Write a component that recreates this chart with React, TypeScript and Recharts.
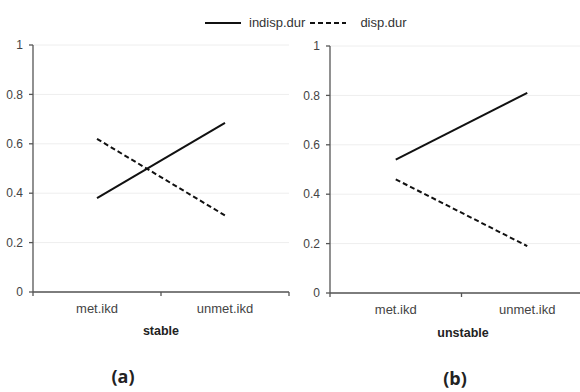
import React from "react";
import { LineChart, Line, XAxis, YAxis, CartesianGrid } from "recharts";

const categories = ["met.ikd", "unmet.ikd"];
const seriesNames = ["indisp.dur", "disp.dur"];
const stableIndisp = [0.38, 0.685];
const stableDisp = [0.62, 0.31];
const unstableIndisp = [0.54, 0.81];
const unstableDisp = [0.46, 0.19];
const yTicks = [0, 0.2, 0.4, 0.6, 0.8, 1];

const FONT = "'Liberation Sans', Arial, sans-serif";
const AXIS = "#555";

// x is numeric so tick marks can sit between categories (Excel style)
const build = (a: number[], b: number[]) =>
  categories.map((c, i) => ({ name: c, x: i + 0.5, indisp: a[i], disp: b[i] }));

const XTick = (props: any) => {
  const { x, y, payload } = props;
  const v = payload.value;
  if (Number.isInteger(v)) {
    return <line x1={x} x2={x} y1={y} y2={y + 4} stroke={AXIS} strokeWidth={1.3} />;
  }
  return (
    <text x={x} y={y + 16} dy="0.355em" textAnchor="middle" fill="#444" fontSize={13} fontFamily={FONT}>
      {categories[Math.floor(v)]}
    </text>
  );
};

type PanelProps = {
  data: any[];
  left: number;
  width: number;
  yAxisWidth: number;
  top: number;
  plotBottom: number;
  right: number;
};

function Panel({ data, left, width, yAxisWidth, top, plotBottom, right }: PanelProps) {
  const height = 392;
  return (
    <div style={{ position: "absolute", left, top: 0 }}>
      <LineChart
        width={width}
        height={height}
        data={data}
        margin={{ top, left: 0, right, bottom: height - plotBottom - 30 }}
      >
        <CartesianGrid vertical={false} stroke="#eeeeee" />
        <XAxis
          dataKey="x"
          type="number"
          domain={[0, 2]}
          ticks={[0, 0.5, 1, 1.5, 2]}
          interval={0}
          height={30}
          tickLine={false}
          tickSize={0}
          tickMargin={0}
          tick={<XTick />}
          axisLine={{ stroke: AXIS, strokeWidth: 1.3 }}
        />
        <YAxis
          width={yAxisWidth}
          domain={[0, 1]}
          ticks={yTicks}
          interval={0}
          tickSize={4}
          tickMargin={6}
          tickFormatter={(v: number) => String(v)}
          tick={{ fill: "#444", fontSize: 12, fontFamily: FONT }}
          tickLine={{ stroke: AXIS, strokeWidth: 1.3 }}
          axisLine={{ stroke: AXIS, strokeWidth: 1.3 }}
        />
        <Line dataKey="indisp" stroke="#111" strokeWidth={2} dot={false} isAnimationActive={false} />
        <Line
          dataKey="disp"
          stroke="#111"
          strokeWidth={2}
          strokeDasharray="5 3"
          dot={false}
          isAnimationActive={false}
        />
      </LineChart>
    </div>
  );
}

const label = (text: string, cx: number, cy: number, size: number, family = FONT) => (
  <div
    style={{
      position: "absolute",
      left: cx - 60,
      top: cy - size * 0.6,
      width: 120,
      textAlign: "center",
      fontFamily: family,
      fontWeight: "bold",
      fontSize: size,
      lineHeight: `${size * 1.2}px`,
      color: "#222",
    }}
  >
    {text}
  </div>
);

export default function App() {
  return (
    <div
      style={{
        position: "absolute",
        left: 0,
        top: 0,
        width: 580,
        height: 392,
        overflow: "hidden",
        background: "#fff",
      }}
    >
      {/* legend */}
      <div
        style={{
          position: "absolute",
          left: 205,
          top: 15,
          display: "flex",
          alignItems: "center",
          fontFamily: FONT,
          fontSize: 13,
          color: "#333",
          whiteSpace: "nowrap",
        }}
      >
        <svg width={36} height={4}>
          <line x1={0} x2={36} y1={2} y2={2} stroke="#111" strokeWidth={2} />
        </svg>
        <span style={{ marginLeft: 8, marginRight: 5 }}>{seriesNames[0]}</span>
        <svg width={36} height={4}>
          <line x1={0} x2={36} y1={2} y2={2} stroke="#111" strokeWidth={2} strokeDasharray="5 3" />
        </svg>
        <span style={{ marginLeft: 14 }}>{seriesNames[1]}</span>
      </div>

      <Panel
        data={build(stableIndisp, stableDisp)}
        left={0}
        width={290}
        yAxisWidth={33}
        top={45}
        plotBottom={292}
        right={1}
      />
      <Panel
        data={build(unstableIndisp, unstableDisp)}
        left={290}
        width={305}
        yAxisWidth={40}
        top={46}
        plotBottom={293}
        right={2}
      />

      {label("stable", 161, 331, 12.5)}
      {label("unstable", 463, 333, 12.5)}
      {label("(a)", 123, 377, 18, "'Open Sans', sans-serif")}
      {label("(b)", 455, 379, 18, "'Open Sans', sans-serif")}
    </div>
  );
}
